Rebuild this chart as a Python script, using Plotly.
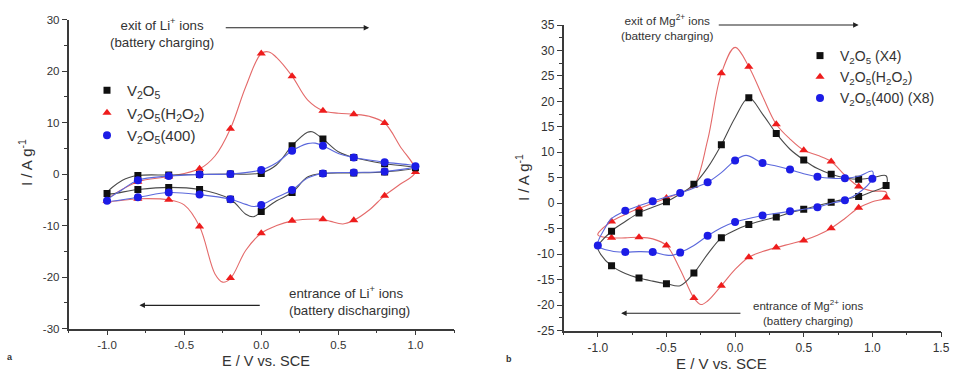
import plotly.graph_objects as go

# ---------------- Panel a (Li+) ----------------
a_black_line_E = [-1.0, -0.9, -0.8, -0.6, -0.4, -0.2, 0.0, 0.1, 0.2, 0.3, 0.33, 0.4, 0.5, 0.6, 0.8, 1.0,
                  0.8, 0.6, 0.4, 0.3, 0.2, 0.1, 0.0, -0.05, -0.1, -0.2, -0.4, -0.6, -0.8, -1.0]
a_black_line_I = [-3.8, -1.2, -0.3, -0.2, -0.1, 0.0, 0.2, 1.8, 5.5, 8.1, 8.2, 6.8, 4.3, 3.2, 2.0, 1.2,
                  0.4, 0.2, 0.1, -0.6, -3.6, -5.2, -7.3, -8.3, -7.8, -4.9, -3.0, -2.6, -3.0, -3.8]
a_black_mk_E = [-1.0, -0.8, -0.6, -0.4, -0.2, 0.0, 0.2, 0.4, 0.6, 0.8, 1.0,
                0.8, 0.6, 0.4, 0.2, 0.0, -0.2, -0.4, -0.6, -0.8]
a_black_mk_I = [-3.8, -0.3, -0.2, -0.1, 0.0, 0.1, 5.5, 6.8, 3.2, 2.0, 1.2,
                0.4, 0.2, 0.1, -3.6, -7.3, -4.9, -3.0, -2.6, -3.0]

a_red_line_E = [-1.0, -0.8, -0.6, -0.4, -0.3, -0.2, -0.1, 0.0, 0.05, 0.1, 0.2, 0.3, 0.4, 0.5, 0.6, 0.7, 0.8, 0.9, 1.0,
                0.9, 0.8, 0.7, 0.6, 0.53, 0.45, 0.4, 0.3, 0.2, 0.1, 0.0, -0.1, -0.2, -0.25, -0.3, -0.4, -0.5, -0.6, -0.8, -1.0]
a_red_line_I = [-5.2, -1.5, -0.5, 1.0, 3.5, 8.8, 17.0, 23.4, 23.7, 22.6, 19.0, 14.4, 12.3, 11.8, 11.6, 11.2, 9.9, 5.4, 0.4,
                -2.0, -4.2, -7.0, -9.0, -9.7, -9.2, -8.8, -8.8, -9.1, -10.0, -11.5, -14.8, -20.3, -21.0, -19.4, -10.2, -6.0, -5.0, -4.8, -5.2]
a_red_mk_E = [-1.0, -0.8, -0.6, -0.4, -0.2, 0.0, 0.2, 0.4, 0.6, 0.8, 1.0,
              0.8, 0.6, 0.4, 0.2, 0.0, -0.2, -0.4, -0.6, -0.8]
a_red_mk_I = [-5.2, -1.5, -0.5, 1.0, 8.8, 23.4, 19.0, 12.3, 11.6, 9.9, 0.4,
              -4.2, -9.0, -8.8, -9.1, -11.5, -20.2, -10.2, -5.0, -4.8]

a_blue_line_E = [-1.0, -0.9, -0.8, -0.6, -0.4, -0.2, 0.0, 0.1, 0.2, 0.3, 0.35, 0.4, 0.5, 0.6, 0.8, 1.0,
                 0.8, 0.6, 0.4, 0.3, 0.2, 0.1, 0.0, -0.05, -0.1, -0.2, -0.4, -0.6, -0.8, -1.0]
a_blue_line_I = [-5.2, -3.0, -1.2, -0.4, -0.1, 0.0, 0.8, 2.2, 4.5, 5.9, 6.0, 5.5, 4.0, 3.2, 2.3, 1.5,
                 0.5, 0.3, 0.1, -0.8, -3.1, -4.5, -6.0, -6.3, -5.9, -4.9, -4.0, -3.6, -4.5, -5.2]
a_blue_mk_E = [-1.0, -0.8, -0.6, -0.4, -0.2, 0.0, 0.2, 0.4, 0.6, 0.8, 1.0,
               0.8, 0.6, 0.4, 0.2, 0.0, -0.2, -0.4, -0.6, -0.8]
a_blue_mk_I = [-5.2, -1.2, -0.4, -0.1, 0.0, 0.8, 4.5, 5.5, 3.2, 2.3, 1.5,
               0.5, 0.3, 0.1, -3.1, -6.0, -4.9, -4.0, -3.6, -4.5]

# ---------------- Panel b (Mg2+) ----------------
b_black_line_E = [-1.0, -0.9, -0.8, -0.7, -0.6, -0.5, -0.4, -0.3, -0.2, -0.1, 0.0, 0.1, 0.2, 0.3, 0.4, 0.5, 0.6, 0.7, 0.8, 0.9, 1.0, 1.1,
                  1.1, 1.0, 0.9, 0.8, 0.7, 0.6, 0.5, 0.4, 0.3, 0.2, 0.1, 0.0, -0.1, -0.2, -0.3, -0.4, -0.5, -0.6, -0.7, -0.8, -0.9, -0.98, -1.0]
b_black_line_I = [-8.6, -5.5, -3.6, -1.9, -0.8, 0.3, 1.8, 3.7, 7.0, 11.5, 16.8, 20.7, 17.5, 13.7, 10.6, 8.5, 6.8, 5.7, 5.0, 4.7, 5.0, 5.4,
                  3.5, 2.3, 1.3, 0.8, 0.2, -0.5, -1.2, -1.9, -2.7, -3.4, -4.2, -5.3, -6.8, -10.0, -13.7, -16.2, -15.8, -15.3, -14.7, -13.8, -12.3, -10.0, -8.6]
b_black_mk_E = [-0.9, -0.7, -0.5, -0.3, -0.1, 0.1, 0.3, 0.5, 0.7, 0.9,
                1.1, 0.9, 0.7, 0.5, 0.3, 0.1, -0.1, -0.3, -0.5, -0.7, -0.9]
b_black_mk_I = [-5.5, -1.9, 0.3, 3.7, 11.5, 20.7, 13.7, 8.5, 5.7, 4.7,
                3.5, 1.3, 0.2, -1.2, -2.7, -4.2, -6.8, -13.7, -15.8, -14.7, -12.3]

b_red_line_E = [-1.0, -0.9, -0.8, -0.7, -0.6, -0.5, -0.4, -0.3, -0.2, -0.1, 0.0, 0.1, 0.2, 0.3, 0.4, 0.5, 0.6, 0.7, 0.8, 0.9, 1.0, 1.1,
                1.1, 1.0, 0.9, 0.8, 0.7, 0.6, 0.5, 0.4, 0.3, 0.2, 0.1, 0.0, -0.1, -0.2, -0.25, -0.3, -0.4, -0.5, -0.6, -0.7, -0.8, -0.9, -1.0]
b_red_line_I = [-6.2, -3.6, -2.2, -1.0, 0.0, 1.0, 2.0, 3.5, 12.4, 25.5, 30.6, 26.8, 21.0, 15.5, 12.6, 10.4, 9.4, 8.2, 5.5, 3.3, 2.4, 2.2,
                1.1, 0.3, -0.9, -3.0, -4.9, -6.3, -7.3, -8.0, -8.7, -9.5, -10.6, -13.0, -16.2, -19.2, -19.9, -18.6, -13.0, -8.3, -7.0, -6.7, -6.8, -6.8, -6.2]
b_red_mk_E = [-0.9, -0.7, -0.5, -0.3, -0.1, 0.1, 0.3, 0.5, 0.7, 0.9,
              1.1, 0.9, 0.7, 0.5, 0.3, 0.1, -0.1, -0.3, -0.5, -0.7, -0.9]
b_red_mk_I = [-3.6, -1.0, 1.0, 3.5, 25.5, 26.8, 15.5, 10.4, 8.2, 3.3,
              1.1, -0.9, -4.9, -7.3, -8.7, -10.6, -16.2, -18.6, -8.3, -6.7, -6.8]

b_blue_line_E = [-1.0, -0.95, -0.9, -0.8, -0.7, -0.6, -0.5, -0.4, -0.3, -0.2, -0.1, 0.0, 0.08, 0.2, 0.3, 0.4, 0.5, 0.6, 0.7, 0.8, 0.9, 1.0,
                 1.0, 0.9, 0.8, 0.7, 0.6, 0.5, 0.4, 0.3, 0.2, 0.1, 0.0, -0.1, -0.2, -0.3, -0.4, -0.45, -0.5, -0.6, -0.7, -0.8, -0.9, -1.0]
b_blue_line_I = [-8.3, -5.0, -3.0, -1.5, -0.5, 0.4, 1.2, 2.0, 3.0, 4.1, 6.0, 8.4, 9.4, 7.9, 7.3, 6.6, 5.8, 5.2, 4.9, 4.9, 5.3, 6.3,
                 4.8, 2.0, 0.6, 0.0, -0.8, -1.2, -1.6, -2.0, -2.4, -3.0, -3.7, -4.8, -6.4, -8.3, -9.7, -10.2, -10.2, -9.6, -9.5, -9.6, -9.4, -8.3]
b_blue_mk_E = [-1.0, -0.8, -0.6, -0.4, -0.2, 0.0, 0.2, 0.4, 0.6, 0.8, 1.0,
               0.8, 0.6, 0.4, 0.2, 0.0, -0.2, -0.4, -0.6, -0.8]
b_blue_mk_I = [-8.3, -1.5, 0.4, 2.0, 4.1, 8.4, 7.9, 6.6, 5.2, 4.9, 4.8,
               0.6, -0.8, -1.6, -2.4, -3.7, -6.4, -9.7, -9.6, -9.6]

# tick labels
a_xtick_vals = [-1.0, -0.5, 0.0, 0.5, 1.0]
a_xtick_text = ["-1.0", "-0.5", "0.0", "0.5", "1.0"]
a_ytick_vals = [-30, -20, -10, 0, 10, 20, 30]
a_ytick_text = ["-30", "-20", "-10", "0", "10", "20", "30"]
b_xtick_vals = [-1.0, -0.5, 0.0, 0.5, 1.0, 1.5]
b_xtick_text = ["-1.0", "-0.5", "0.0", "0.5", "1.0", "1.5"]
b_ytick_vals = [-25, -20, -15, -10, -5, 0, 5, 10, 15, 20, 25, 30, 35]
b_ytick_text = ["-25", "-20", "-15", "-10", "-5", "0", "5", "10", "15", "20", "25", "30", "35"]

a_names = ["V<sub>2</sub>O<sub>5</sub>", "V<sub>2</sub>O<sub>5</sub>(H<sub>2</sub>O<sub>2</sub>)", "V<sub>2</sub>O<sub>5</sub>(400)"]
b_names = ["V<sub>2</sub>O<sub>5</sub> (X4)", "V<sub>2</sub>O<sub>5</sub>(H<sub>2</sub>O<sub>2</sub>)", "V<sub>2</sub>O<sub>5</sub>(400) (X8)"]

LINE_COL = {"black": "#4a4a4a", "red": "#e46a6a", "blue": "#5b68dc"}
MK_COL = {"black": "#101010", "red": "#ee1c1c", "blue": "#1c1ce6"}
SYMB = {"black": "square", "red": "triangle-up", "blue": "circle"}
MSIZE = {"black": 7, "red": 8, "blue": 8}

fig = go.Figure()

def add_series(xa, ya, lineE, lineI, mkE, mkI, key, name, legend, rank):
    fig.add_trace(go.Scatter(x=lineE, y=lineI, mode="lines", xaxis=xa, yaxis=ya,
                             line=dict(color=LINE_COL[key], width=1.1, shape="spline", smoothing=1.0),
                             showlegend=False, hoverinfo="skip"))
    fig.add_trace(go.Scatter(x=mkE, y=mkI, mode="markers", xaxis=xa, yaxis=ya,
                             marker=dict(symbol=SYMB[key], color=MK_COL[key], size=MSIZE[key], line=dict(width=0)),
                             name=name, legend=legend, legendrank=rank))

add_series("x", "y", a_red_line_E, a_red_line_I, a_red_mk_E, a_red_mk_I, "red", a_names[1], "legend", 2)
add_series("x", "y", a_black_line_E, a_black_line_I, a_black_mk_E, a_black_mk_I, "black", a_names[0], "legend", 1)
add_series("x", "y", a_blue_line_E, a_blue_line_I, a_blue_mk_E, a_blue_mk_I, "blue", a_names[2], "legend", 3)
add_series("x2", "y2", b_red_line_E, b_red_line_I, b_red_mk_E, b_red_mk_I, "red", b_names[1], "legend2", 2)
add_series("x2", "y2", b_black_line_E, b_black_line_I, b_black_mk_E, b_black_mk_I, "black", b_names[0], "legend2", 1)
add_series("x2", "y2", b_blue_line_E, b_blue_line_I, b_blue_mk_E, b_blue_mk_I, "blue", b_names[2], "legend2", 3)

# layout in window pixels (page margin removed below)
W, H = 953, 372
def fx(px):
    return px / W
def fy(py):
    return 1 - py / H

FONT = "Liberation Sans, Arial, sans-serif"
TXT = "#333333"
AX = "#3a3a3a"

def xax(dom, rng, fs, tv, tt, anchor):
    return dict(domain=dom, range=rng, tickmode="array", tickvals=tv, ticktext=tt, automargin=False, anchor=anchor,
                showline=True, linecolor=AX, linewidth=1.5, ticks="outside", ticklen=5,
                tickwidth=1.2, tickcolor=AX, showgrid=False, zeroline=False,
                tickfont=dict(family=FONT, size=fs, color=TXT),
                minor=dict(dtick=0.25, tick0=0, ticks="outside", ticklen=3, tickcolor=AX, showgrid=False))

def yax(dom, rng, mdt, fs, tv, tt, anchor):
    return dict(domain=dom, range=rng, tickmode="array", tickvals=tv, ticktext=tt, anchor=anchor, automargin=False,
                showline=True, linecolor=AX, linewidth=1.5, ticks="outside", ticklen=5,
                tickwidth=1.2, tickcolor=AX, showgrid=False, zeroline=False,
                tickfont=dict(family=FONT, size=fs, color=TXT),
                minor=dict(dtick=mdt, tick0=0, ticks="outside", ticklen=3, tickcolor=AX, showgrid=False))

fig.update_layout(
    template="none",
    width=W, height=H, margin=dict(l=0, r=0, t=0, b=0, autoexpand=False),
    paper_bgcolor="white", plot_bgcolor="white",
    font=dict(family=FONT, color=TXT),
    xaxis=xax([fx(68.5), fx(454)], [-1.25, 1.25], 11.5, a_xtick_vals, a_xtick_text, "y"),
    yaxis=yax([fy(328.5), fy(19.5)], [-30, 30], 5, 11.5, a_ytick_vals, a_ytick_text, "x"),
    xaxis2=xax([fx(563.5), fx(941)], [-1.25, 1.5], 12, b_xtick_vals, b_xtick_text, "y2"),
    yaxis2=yax([fy(330.5), fy(25)], [-25, 35], 2.5, 12, b_ytick_vals, b_ytick_text, "x2"),
    legend=dict(x=fx(87), y=fy(74), xanchor="left", yanchor="top", bgcolor="rgba(0,0,0,0)",
                font=dict(family=FONT, size=15, color=TXT), tracegroupgap=0, itemwidth=30),
    legend2=dict(x=fx(800), y=fy(40), xanchor="left", yanchor="top", bgcolor="rgba(0,0,0,0)",
                 font=dict(family=FONT, size=14, color=TXT), tracegroupgap=0, itemwidth=30),
    showlegend=True,
)

ann = []
def txt(x, y, text, size, xref="paper", yref="paper", **kw):
    d = dict(x=x, y=y, xref=xref, yref=yref, text=text, showarrow=False,
             xanchor="center", yanchor="middle",
             font=dict(family=FONT, size=size, color=TXT))
    d.update(kw)
    ann.append(d)

def arrow(x0, x1, y, xr, yr):
    ann.append(dict(x=x1, y=y, ax=x0, ay=y, xref=xr, yref=yr, axref=xr, ayref=yr, text="",
                    showarrow=True, arrowhead=2, arrowsize=1.0, arrowwidth=1.1, arrowcolor="#222222"))

# panel a annotations
txt(-0.645, 27.4, "exit of Li<sup>+</sup> ions<br>(battery charging)", 13.3, "x", "y")
arrow(-0.24, 0.70, 28.4, "x", "y")
txt(0.17, -24.7, "entrance of Li<sup>+</sup> ions<br>(battery discharging)", 13.3, "x", "y", xanchor="left", align="left")
arrow(0.0, -0.79, -25.5, "x", "y")
# panel b annotations
txt(-0.49, 34.5, "exit of Mg<sup>2+</sup> ions<br>(battery charging)", 11.8, "x2", "y2")
arrow(-0.13, 0.90, 35.0, "x2", "y2")
txt(0.53, -21.5, "entrance of Mg<sup>2+</sup> ions<br>(battery charging)", 11.5, "x2", "y2")
arrow(0.05, -0.83, -21.6, "x2", "y2")

# axis titles and panel labels
txt(fx(25), fy(163), "I / A g<sup>-1</sup>", 15, textangle=-90)
txt(fx(266), fy(361), "E / V vs. SCE", 14.5)
txt(fx(522), fy(178), "I / A g<sup>-1</sup>", 15, textangle=-90)
txt(fx(721), fy(363), "E / V vs. SCE", 15)
txt(fx(10), fy(357), "<b>a</b>", 9)
txt(fx(509), fy(359), "<b>b</b>", 9)

fig.update_layout(annotations=ann)
fig.write_html(
    "out.html",
    config={"displayModeBar": False},
    post_script="document.body.style.margin='0';document.body.style.padding='0';"
                "document.documentElement.style.overflow='hidden';",
)
